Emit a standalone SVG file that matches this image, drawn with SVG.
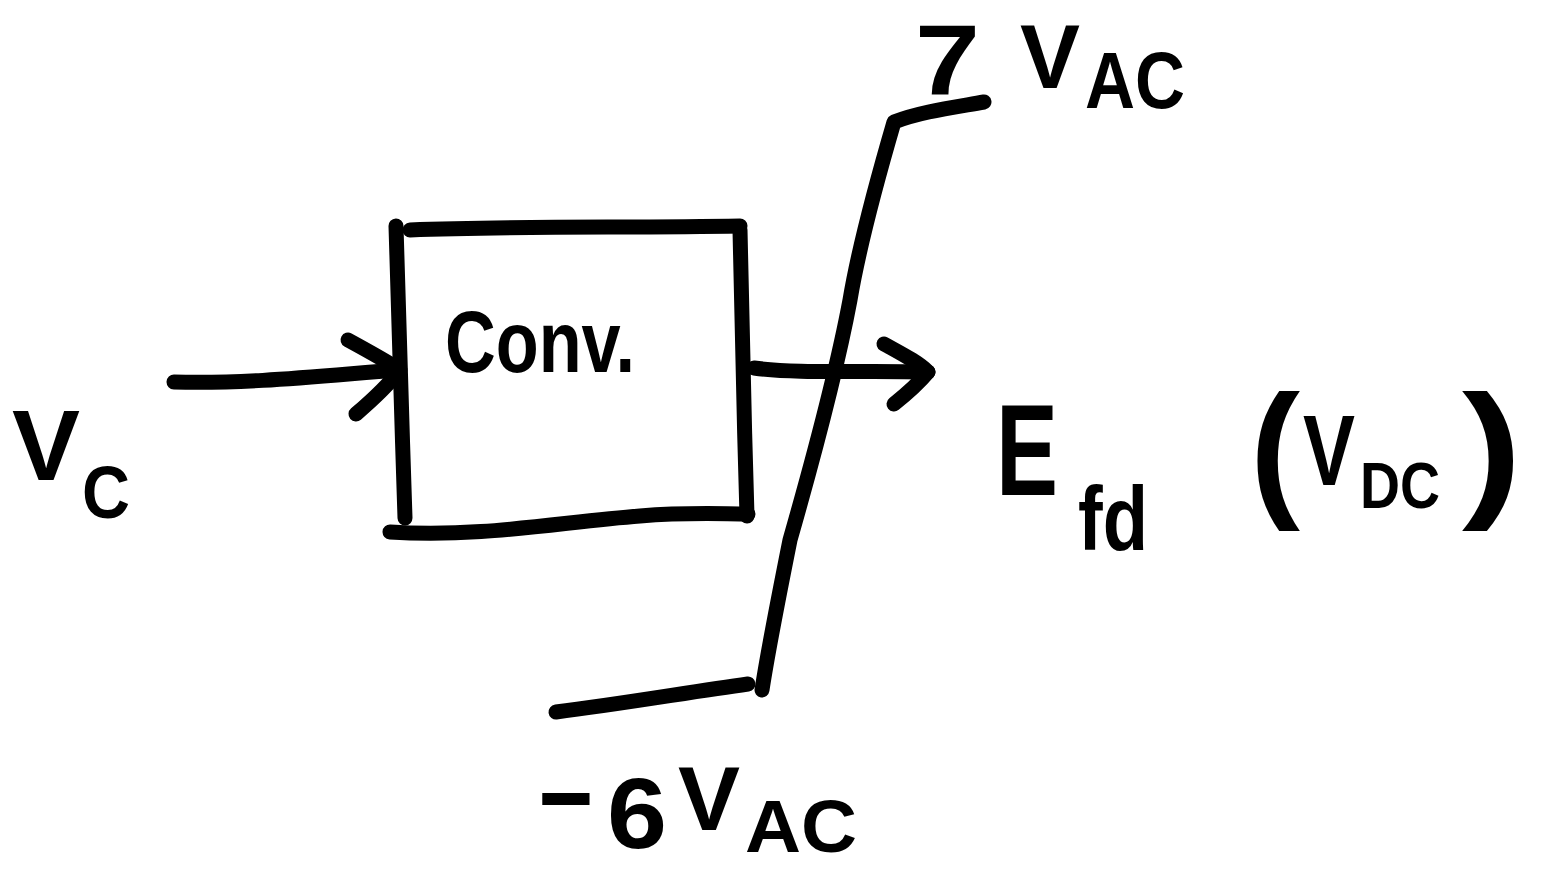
<svg xmlns="http://www.w3.org/2000/svg" width="1551" height="871" viewBox="0 0 1551 871">
  <style>
    .ink { fill: none; stroke: #000; stroke-width: 15; stroke-linecap: round; stroke-linejoin: round; }
    .lbl { font-family: "Liberation Sans", "DejaVu Sans", sans-serif; font-weight: bold; fill: #000; }
  </style>
  <rect width="1551" height="871" fill="#fff"/>

  <!-- converter block -->
  <g id="conv">
    <path class="ink" d="M396 226 C398 320 402 420 405 518"/>
    <path class="ink" d="M410 230 C520 226 630 228 740 226"/>
    <path class="ink" d="M740 230 C742 320 744 420 747 516"/>
    <path class="ink" d="M390 532 C480 538 560 522 640 516 C690 512 720 514 748 514"/>
    <text class="lbl" x="445" y="372" font-size="88" textLength="190" lengthAdjust="spacingAndGlyphs">Conv.</text>
  </g>

  <!-- input signal label -->
  <g id="vc">
    <text class="lbl" x="12" y="480" font-size="100" textLength="68" lengthAdjust="spacingAndGlyphs">V</text>
    <text class="lbl" x="82" y="518" font-size="75" textLength="48" lengthAdjust="spacingAndGlyphs">C</text>
  </g>

  <!-- output label -->
  <g id="efd">
    <text class="lbl" x="996" y="495" font-size="130" textLength="62" lengthAdjust="spacingAndGlyphs">E</text>
    <text class="lbl" x="1078" y="550" font-size="90" textLength="70" lengthAdjust="spacingAndGlyphs">fd</text>
    <text class="lbl" x="1250" y="500" font-size="150" textLength="50" lengthAdjust="spacingAndGlyphs">(</text>
    <text class="lbl" x="1303" y="485" font-size="100" textLength="52" lengthAdjust="spacingAndGlyphs">V</text>
    <text class="lbl" x="1360" y="508" font-size="65" textLength="80" lengthAdjust="spacingAndGlyphs">DC</text>
    <text class="lbl" x="1462" y="500" font-size="150" textLength="60" lengthAdjust="spacingAndGlyphs">)</text>
  </g>

  <!-- limit labels -->
  <g id="upper-limit">
    <text class="lbl" x="915" y="95" font-size="100" textLength="65" lengthAdjust="spacingAndGlyphs">7</text>
    <text class="lbl" x="1020" y="88" font-size="90" textLength="60" lengthAdjust="spacingAndGlyphs">V</text>
    <text class="lbl" x="1085" y="108" font-size="80" textLength="100" lengthAdjust="spacingAndGlyphs">AC</text>
  </g>
  <g id="lower-limit">
    <text class="lbl" x="535" y="825" font-size="100" textLength="62" lengthAdjust="spacingAndGlyphs">-</text>
    <text class="lbl" x="607" y="848" font-size="100" textLength="60" lengthAdjust="spacingAndGlyphs">6</text>
    <text class="lbl" x="678" y="830" font-size="90" textLength="62" lengthAdjust="spacingAndGlyphs">V</text>
    <text class="lbl" x="745" y="852" font-size="75" textLength="112" lengthAdjust="spacingAndGlyphs">AC</text>
  </g>

  <!-- connectors and limiter characteristic -->
  <g id="connectors">
    <path class="ink" d="M174 382 C250 384 320 376 398 370"/>
    <path class="ink" d="M348 340 C370 352 388 362 400 370 C386 388 370 402 356 414"/>
    <path class="ink" d="M754 368 C800 374 860 370 928 372"/>
    <path class="ink" d="M884 344 C902 354 918 362 928 372 C918 384 904 396 894 404"/>
    <path class="ink" d="M984 102 C950 108 920 112 894 122 C880 170 860 240 850 300 C835 380 810 470 790 540 C778 600 768 650 762 690"/>
    <path class="ink" d="M748 684 C690 692 620 704 556 712"/>
  </g>
</svg>
